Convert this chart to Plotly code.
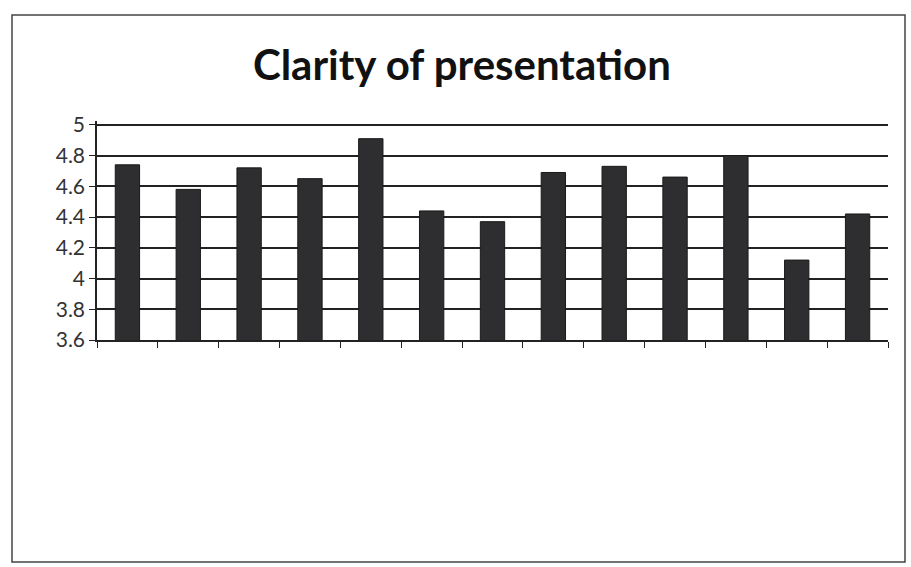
import plotly.graph_objects as go

categories = [str(i) for i in range(1, 14)]
values = [4.74, 4.58, 4.72, 4.65, 4.91, 4.44, 4.37, 4.69, 4.73, 4.66, 4.80, 4.12, 4.42]
y_ticks = [3.6, 3.8, 4.0, 4.2, 4.4, 4.6, 4.8, 5.0]
y_tick_labels = ["3.6", "3.8", "4", "4.2", "4.4", "4.6", "4.8", "5"]

fig = go.Figure()
fig.add_trace(go.Bar(
    x=categories, y=values,
    marker=dict(color="#2e2e30", line=dict(color="#1a1a1a", width=1)),
    width=0.4,
))

fig.update_layout(
    width=911, height=567,
    paper_bgcolor="white", plot_bgcolor="white",
    margin=dict(l=97, r=23, t=121, b=227),
    showlegend=False,
    title=dict(text="<b>Clarity of presentation</b>", x=0.507, xanchor="center",
               y=0.885, yanchor="middle",
               font=dict(family="Lato, Open Sans, sans-serif", size=42, color="#111")),
    font=dict(family="Lato, Open Sans, sans-serif", color="#222"),
    xaxis=dict(type="category", showticklabels=False, ticks="outside", tickson="boundaries",
               ticklen=6, tickcolor="#222", showline=True, linecolor="#222", linewidth=1.5,
               showgrid=False),
    yaxis=dict(range=[3.6, 5.025], tickvals=y_ticks, ticktext=y_tick_labels,
               ticks="outside", ticklen=6, tickcolor="#222", showline=True,
               linecolor="#222", linewidth=1.5, showgrid=True, gridcolor="#222",
               gridwidth=1.5, tickfont=dict(size=21, color="#333"), zeroline=False),
    shapes=[dict(type="rect", xref="paper", yref="paper",
                 x0=-(97-12)/791, x1=1+(23-6)/791, y0=-(227-5)/219, y1=1+(121-15)/219,
                 line=dict(color="#444", width=1.5), fillcolor="rgba(0,0,0,0)")],
)

fig.write_html("out.html", config={"displayModeBar": False})

with open("out.html", "r", encoding="utf-8") as f:
    html = f.read()
html = html.replace("<body>", '<body style="margin:0;padding:0;overflow:hidden">', 1)
with open("out.html", "w", encoding="utf-8") as f:
    f.write(html)
